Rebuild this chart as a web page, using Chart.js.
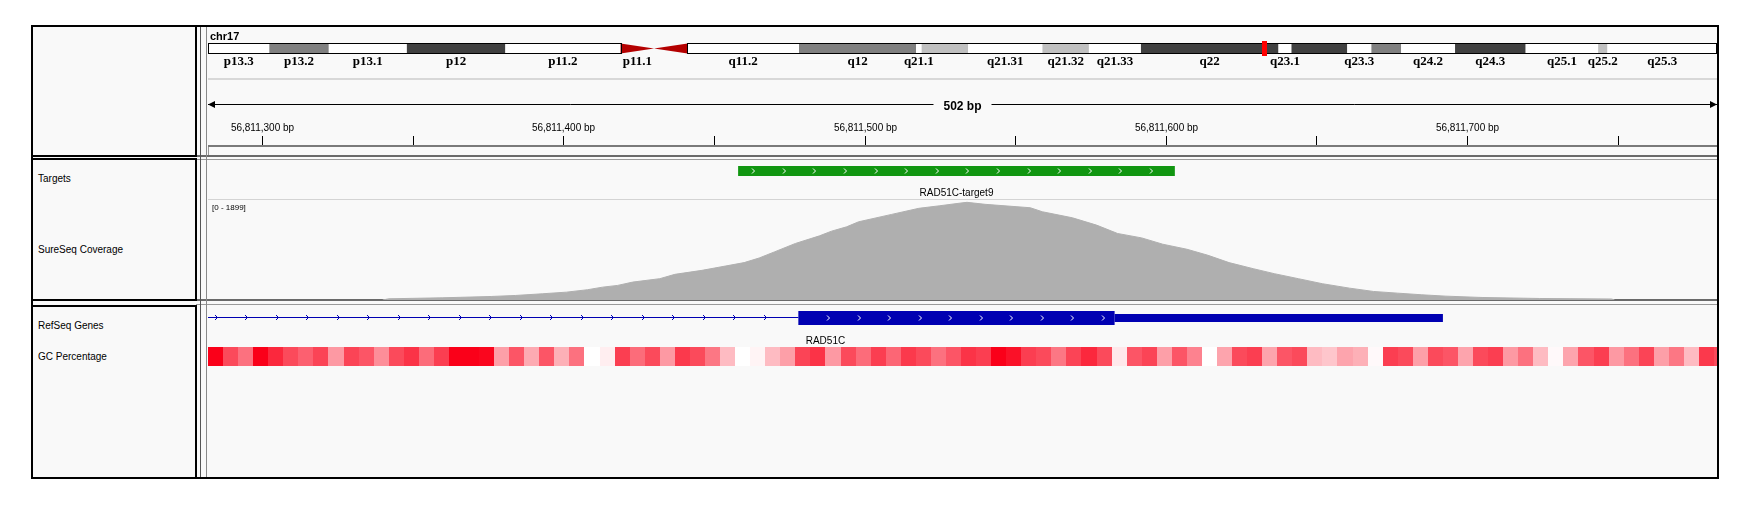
<!DOCTYPE html>
<html><head><meta charset="utf-8">
<script src="https://cdn.jsdelivr.net/npm/chart.js@4.4.1/dist/chart.umd.min.js"></script>
<style>
html,body{margin:0;padding:0;background:#fff;width:1754px;height:509px;overflow:hidden;font-family:"Liberation Sans",Arial,sans-serif;}
.abs{position:absolute;box-sizing:border-box;}
.lbl{position:absolute;left:38px;font-size:10px;line-height:12px;color:#000;white-space:nowrap;font-family:"Liberation Sans",Arial,sans-serif;}
canvas{position:absolute;}
</style></head><body>
<div class="abs" style="left:31px;top:25px;width:1688px;height:454px;border:2px solid #000;background:#f9f9f9;"></div>
<div class="abs" style="left:196px;top:155px;width:1521px;height:2px;background:#6a6a6a;"></div>
<div class="abs" style="left:196px;top:159px;width:1521px;height:1px;background:#9a9a9a;"></div>
<div class="abs" style="left:196px;top:299px;width:1521px;height:2px;background:#6a6a6a;"></div>
<div class="abs" style="left:196px;top:304px;width:1521px;height:1px;background:#9a9a9a;"></div>
<div class="abs" style="left:200px;top:27px;width:1px;height:450px;background:#555;"></div>
<div class="abs" style="left:206px;top:27px;width:1px;height:450px;background:#8a8a8a;"></div>
<div class="abs" style="left:31px;top:25px;width:166px;height:132px;border:2px solid #000;background:#f9f9f9;"></div>
<div class="abs" style="left:31px;top:158px;width:166px;height:143px;border:2px solid #000;background:#f9f9f9;"></div>
<div class="abs" style="left:31px;top:305px;width:166px;height:174px;border:2px solid #000;background:#f9f9f9;"></div>
<div class="lbl" style="top:173px;">Targets</div>
<div class="lbl" style="top:244px;">SureSeq Coverage</div>
<div class="lbl" style="top:320px;">RefSeq Genes</div>
<div class="lbl" style="top:351px;">GC Percentage</div>
<canvas id="cov" width="1509" height="100" style="left:208px;top:200px;width:1509px;height:100px;"></canvas>
<canvas id="ovl" width="1509" height="450" style="left:208px;top:27px;width:1509px;height:450px;"></canvas>
<script>
// ---- view ----
const chrName = 'chr17';
const chrLen = 81195210;
const viewStart = 56811282;
const viewEnd = 56811783;

// ---- cytobands (hg19 chr17) ----
const cytoNames  = ['p13.3','p13.2','p13.1','p12','p11.2','p11.1','q11.1','q11.2','q12','q21.1','q21.2','q21.31','q21.32','q21.33','q22','q23.1','q23.2','q23.3','q24.1','q24.2','q24.3','q25.1','q25.2','q25.3'];
const cytoStarts = [0,3300000,6500000,10700000,16000000,22200000,24000000,25800000,31800000,38100000,38400000,40900000,44900000,47400000,50200000,57600000,58300000,61300000,62600000,64200000,67100000,70900000,74800000,75300000];
const cytoEnds   = [3300000,6500000,10700000,16000000,22200000,24000000,25800000,31800000,38100000,38400000,40900000,44900000,47400000,50200000,57600000,58300000,61300000,62600000,64200000,67100000,70900000,74800000,75300000,81195210];
const cytoStains = ['gneg','gpos50','gneg','gpos75','gneg','acen','acen','gneg','gpos50','gneg','gpos25','gneg','gpos25','gneg','gpos75','gneg','gpos75','gneg','gpos50','gneg','gpos75','gneg','gpos25','gneg'];

// ---- ruler ----
const rulerTicks = [56811300,56811350,56811400,56811450,56811500,56811550,56811600,56811650,56811700,56811750];
const rulerLabelTicks = [56811300,56811400,56811500,56811600,56811700];

// ---- targets ----
const targetNames  = ['RAD51C-target9'];
const targetStarts = [56811458];
const targetEnds   = [56811603];

// ---- coverage ----
const covMax = 1899;
const covPos = [56811340,56811342,56811360,56811376,56811384,56811393,56811401,56811408,56811413,56811418,56811423,56811432,56811437,56811446,56811452,56811460,56811465,56811470,56811477,56811485,56811489,56811494,56811498,56811509,56811518,56811525,56811532,56811534,56811540,56811555,56811559,56811569,56811577,56811584,56811592,56811599,56811607,56811614,56811621,56811629,56811636,56811644,56811652,56811661,56811669,56811677,56811685,56811693,56811705,56811724,56811748,56811749];
const covVal = [0,23,42,67,86,118,149,195,244,277,340,405,487,563,626,710,798,912,1073,1218,1307,1389,1485,1626,1741,1790,1842,1855,1817,1752,1676,1561,1422,1263,1179,1059,964,849,710,595,500,405,309,225,162,130,99,73,48,29,19,0];

// ---- RefSeq gene ----
const geneNames    = ['RAD51C'];
const geneTxStarts = [56769934];
const geneTxEnds   = [56811692];
const geneCdsEnds  = [56811583];
const geneExonStarts = [56811478];

// ---- GC percentage (5 bp windows) ----
const gcStart = 56811282;
const gcStep = 5;
const gcValues = [75,62,55,75,68,62,58,63,48,63,60,50,62,66,56,64,75,78,74,47,60,45,60,44,55,30,33,64,56,62,48,65,62,54,42,30,32,42,47,63,66,48,62,56,64,57,65,62,55,60,66,64,76,72,64,62,54,63,68,62,34,60,63,47,60,52,30,46,62,64,46,60,62,42,40,46,44,31,64,62,47,62,60,46,62,64,48,55,42,31,46,60,64,48,55,63,47,54,42,65,62];

function gcColor(v){
  const t = Math.max(0, Math.min(1, (v - 30) / 45));
  const r = Math.round(255 + (250 - 255) * t);
  const g = Math.round(255 * (1 - t));
  const b = Math.round(255 + (25 - 255) * t);
  return 'rgb(' + r + ',' + g + ',' + b + ')';
}
const stainColors = {gneg:'#ffffff', gpos25:'#c0c0c0', gpos50:'#808080', gpos75:'#404040', gpos100:'#000000', acen:'#b40000'};

function chevron(ctx, px, yc, color){
  ctx.strokeStyle = color; ctx.lineWidth = 1;
  ctx.beginPath();
  ctx.moveTo(px - 1.5, yc - 2.5); ctx.lineTo(px + 1, yc); ctx.lineTo(px - 1.5, yc + 2.5);
  ctx.stroke();
}

const igvPlugin = {
  id: 'igv',
  afterDraw(chart){
    const ctx = chart.ctx, x = chart.scales.x, xc = chart.scales.xc;
    const L = chart.chartArea.left, R = chart.chartArea.right, T = chart.chartArea.top;
    ctx.save();
    ctx.textBaseline = 'alphabetic';
    // chromosome name
    ctx.fillStyle = '#000'; ctx.font = 'bold 11px "Liberation Sans"'; ctx.textAlign = 'left';
    ctx.fillText(chrName, L + 2, T + 12.5);
    // ideogram bands
    const iy = T + 17, ih = 9;
    let cenS = null, cenE = null;
    for (let i = 0; i < cytoNames.length; i++){
      const x1 = xc.getPixelForValue(cytoStarts[i]), x2 = xc.getPixelForValue(cytoEnds[i]);
      ctx.fillStyle = stainColors[cytoStains[i]];
      if (cytoStains[i] === 'acen'){
        if (cenS === null) cenS = cytoStarts[i];
        cenE = cytoEnds[i];
        ctx.beginPath();
        if (cytoNames[i][0] === 'p'){
          ctx.moveTo(x1, iy - 0.5); ctx.lineTo(x2, iy + ih / 2); ctx.lineTo(x1, iy + ih + 0.5);
        } else {
          ctx.moveTo(x2, iy - 0.5); ctx.lineTo(x1, iy + ih / 2); ctx.lineTo(x2, iy + ih + 0.5);
        }
        ctx.closePath(); ctx.fill();
      } else {
        ctx.fillRect(x1, iy, x2 - x1, ih);
      }
    }
    ctx.strokeStyle = '#000'; ctx.lineWidth = 1;
    const pL = Math.round(xc.getPixelForValue(0)) + 0.5, pR = Math.round(xc.getPixelForValue(cenS)) + 0.5;
    const qL = Math.round(xc.getPixelForValue(cenE)) + 0.5, qR = Math.round(xc.getPixelForValue(chrLen)) - 0.5;
    ctx.strokeRect(pL, iy - 0.5, pR - pL, ih + 1);
    ctx.strokeRect(qL, iy - 0.5, qR - qL, ih + 1);
    // current view marker
    const cm = xc.getPixelForValue((viewStart + viewEnd) / 2);
    ctx.fillStyle = '#ff0000';
    ctx.fillRect(Math.round(cm) - 2, T + 14, 5, 15);
    // band labels
    ctx.fillStyle = '#000'; ctx.font = 'bold 13px "Liberation Serif"'; ctx.textAlign = 'center';
    let lastRight = -1e9;
    for (let i = 0; i < cytoNames.length; i++){
      const cx = xc.getPixelForValue((cytoStarts[i] + cytoEnds[i]) / 2);
      const w = ctx.measureText(cytoNames[i]).width;
      if (cx - w / 2 > lastRight + 8){
        ctx.fillText(cytoNames[i], cx, T + 38);
        lastRight = cx + w / 2;
      }
    }
    // separator under ideogram
    ctx.fillStyle = '#d8d8d8';
    ctx.fillRect(L, T + 51, R - L, 2);
    // ruler span line
    const spanLabel = (viewEnd - viewStart + 1) + ' bp';
    ctx.font = 'bold 12px "Liberation Sans"';
    const sw = ctx.measureText(spanLabel).width;
    const mid = (L + R) / 2;
    ctx.fillStyle = '#000';
    ctx.fillText(spanLabel, mid, T + 82.5);
    ctx.strokeStyle = '#000'; ctx.lineWidth = 1;
    const ry = T + 77.5;
    ctx.beginPath();
    ctx.moveTo(L, ry); ctx.lineTo(mid - sw / 2 - 10, ry);
    ctx.moveTo(mid + sw / 2 + 10, ry); ctx.lineTo(R, ry);
    ctx.stroke();
    ctx.beginPath(); ctx.moveTo(L, ry); ctx.lineTo(L + 7, ry - 3.5); ctx.lineTo(L + 7, ry + 3.5); ctx.closePath(); ctx.fill();
    ctx.beginPath(); ctx.moveTo(R, ry); ctx.lineTo(R - 7, ry - 3.5); ctx.lineTo(R - 7, ry + 3.5); ctx.closePath(); ctx.fill();
    // ruler ticks
    ctx.font = '10px "Liberation Sans"';
    for (const t of rulerTicks){
      const px = Math.round(x.getPixelForValue(t)) + 0.5;
      if (px < L || px > R) continue;
      ctx.beginPath(); ctx.moveTo(px, T + 109); ctx.lineTo(px, T + 118); ctx.stroke();
      if (rulerLabelTicks.includes(t)){
        ctx.fillText(t.toLocaleString('en-US') + ' bp', px, T + 104);
      }
    }
    ctx.fillStyle = '#7a7a7a';
    ctx.fillRect(L, T + 118, R - L, 2);
    ctx.fillStyle = '#9a9a9a';
    ctx.fillRect(L, T + 120, 1, 8);
    // targets
    for (let i = 0; i < targetNames.length; i++){
      const x1 = x.getPixelForValue(targetStarts[i]), x2 = x.getPixelForValue(targetEnds[i]);
      ctx.fillStyle = '#119611';
      ctx.fillRect(x1, T + 139, x2 - x1, 10);
      for (let p = x1 + 15; p < x2 - 4; p += 30.6) chevron(ctx, Math.round(p) + 0.5, T + 144, '#ffffff');
      ctx.fillStyle = '#000'; ctx.font = '10px "Liberation Sans"'; ctx.textAlign = 'center';
      ctx.fillText(targetNames[i], (x1 + x2) / 2, T + 169);
    }
    // track separator
    ctx.fillStyle = '#d4d4d4';
    ctx.fillRect(L, T + 172, R - L, 1);
    // coverage range label
    ctx.fillStyle = '#000'; ctx.font = '8px "Liberation Sans"'; ctx.textAlign = 'left';
    ctx.fillText('[0 - ' + covMax + ']', L + 4, T + 183);
    // genes
    const gBlue = '#0000b2';
    for (let i = 0; i < geneNames.length; i++){
      const gs = Math.max(geneTxStarts[i], viewStart), ge = Math.min(geneTxEnds[i], viewEnd);
      const xs = x.getPixelForValue(gs), xe = x.getPixelForValue(ge);
      const xex = x.getPixelForValue(geneExonStarts[i]);
      const xcds = x.getPixelForValue(geneCdsEnds[i]);
      ctx.fillStyle = gBlue;
      ctx.fillRect(xs, T + 290, xex - xs, 1);
      for (let p = xs + 7.8; p < xex - 4; p += 30.5) chevron(ctx, Math.round(p) + 0.5, T + 290.5, gBlue);
      ctx.fillStyle = gBlue;
      ctx.fillRect(xex, T + 284, xcds - xex, 14);
      ctx.fillRect(xcds, T + 287, xe - xcds, 8);
      for (let p = xex + 29.7; p < xcds - 4; p += 30.5) chevron(ctx, Math.round(p) + 0.5, T + 291, '#ffffff');
      ctx.fillStyle = '#000'; ctx.font = '10px "Liberation Sans"'; ctx.textAlign = 'center';
      ctx.fillText(geneNames[i], (xs + xe) / 2, T + 316.5);
    }
    // GC percentage heat strip
    ctx.beginPath(); ctx.rect(L, T, R - L, chart.chartArea.bottom - T); ctx.clip();
    for (let i = 0; i < gcValues.length; i++){
      const x1 = x.getPixelForValue(gcStart + i * gcStep), x2 = x.getPixelForValue(gcStart + (i + 1) * gcStep);
      ctx.fillStyle = gcColor(gcValues[i]);
      ctx.fillRect(Math.round(x1), T + 320, Math.round(x2) - Math.round(x1), 19);
    }
    ctx.restore();
  }
};

new Chart(document.getElementById('ovl'), {
  type: 'scatter',
  data: { datasets: [] },
  options: {
    responsive: false, animation: false, devicePixelRatio: 1,
    layout: { padding: 0 },
    plugins: { legend: { display: false }, tooltip: { enabled: false } },
    scales: {
      x: { type: 'linear', min: viewStart, max: viewEnd, display: false },
      xc: { type: 'linear', axis: 'x', min: 0, max: chrLen, display: false },
      y: { type: 'linear', min: 0, max: 1, display: false }
    }
  },
  plugins: [igvPlugin]
});

new Chart(document.getElementById('cov'), {
  type: 'line',
  data: { datasets: [{
    data: covPos.map((p, i) => ({ x: p, y: covVal[i] })),
    borderColor: '#afafaf', backgroundColor: '#afafaf', fill: 'origin',
    pointRadius: 0, borderWidth: 1, tension: 0
  }] },
  options: {
    responsive: false, animation: false, devicePixelRatio: 1,
    layout: { padding: 0 },
    plugins: { legend: { display: false }, tooltip: { enabled: false } },
    scales: {
      x: { type: 'linear', min: viewStart, max: viewEnd, display: false },
      y: { type: 'linear', min: 0, max: covMax, display: false }
    }
  }
});
</script>
</body></html>
